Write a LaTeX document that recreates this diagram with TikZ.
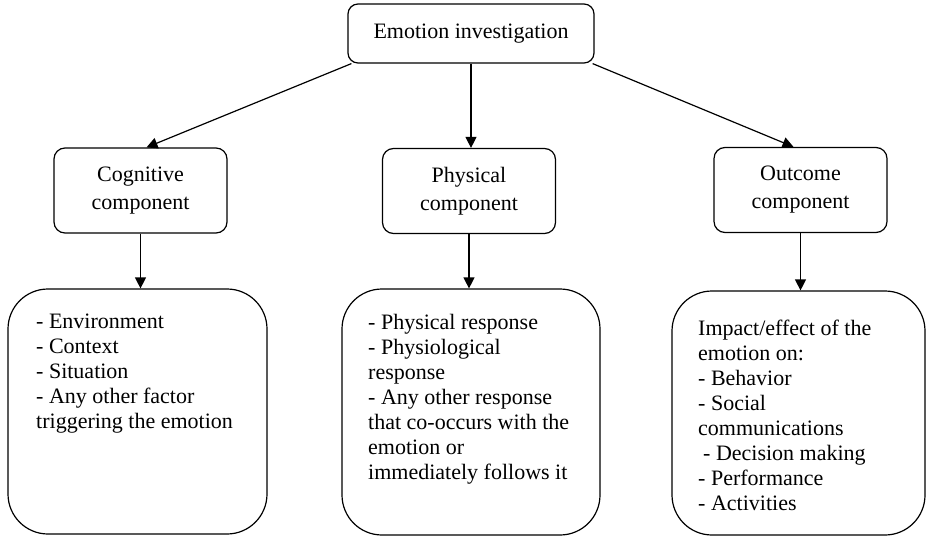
\documentclass[tikz,border=0pt]{standalone}
\usepackage{fontspec}
\setmainfont{Liberation Serif}
\usetikzlibrary{arrows.meta}
\begin{document}
\begin{tikzpicture}[x=1pt,y=-1pt,
  every node/.style={font=\fontsize{22}{25}\selectfont},
  headbox/.style={draw, rounded corners=10pt, line width=1.2pt, minimum width=246pt, minimum height=59pt, inner sep=0pt},
  compbox/.style={draw, rounded corners=11pt, line width=1.2pt, minimum width=173pt, minimum height=85pt, align=center, inner sep=0pt, font=\fontsize{22}{28}\selectfont},
  detailbox/.style={draw, rounded corners=40pt, line width=1.2pt, inner sep=0pt},
  detailtext/.style={anchor=north west, align=left, inner sep=0pt},
  link/.style={draw, line width=1.2pt, -{Triangle[length=11pt,width=11pt]}}
]
\useasboundingbox (0,0) rectangle (928,537);

% root
\node[headbox] (top) at (471,33.5) {Emotion investigation};

% the three components
\node[compbox] (cog) at (140.5,190.5) {Cognitive\\component};
\node[compbox] (phy) at (469,191) {Physical\\component};
\node[compbox] (out) at (800.5,190) {Outcome\\component};

% detail boxes
\node[detailbox, minimum width=259pt, minimum height=245pt] (cogd) at (137.5,411.5) {};
\node[detailbox, minimum width=258pt, minimum height=246pt] (phyd) at (471,412) {};
\node[detailbox, minimum width=253pt, minimum height=244pt] (outd) at (798.5,413) {};

% detail texts
\node[detailtext] (cogt) at (36,314) {- Environment\\- Context\\- Situation\\- Any other factor\\triggering the emotion};
\node[detailtext] (phyt) at (368,314) {- Physical response\\- Physiological\\response\\- Any other response\\that co-occurs with the\\emotion or\\immediately follows it};
\node[detailtext] (outt) at (698,320) {Impact/effect of the\\emotion on:\\- Behavior\\- Social\\communications\\\hspace{5pt}- Decision making\\- Performance\\- Activities};

% connectors
\draw[link] ([xshift=4pt]top.south west) -- ([xshift=6pt]cog.north);
\draw[link] (top.south) -- (top.south |- phy.north);
\draw[link] ([xshift=-2pt]top.south east) -- ([xshift=-7pt]out.north);
\draw[link] (cog.south) -- (cog.south |- cogd.north);
\draw[link] (phy.south) -- (phy.south |- phyd.north);
\draw[link] (out.south) -- (out.south |- outd.north);
\end{tikzpicture}
\end{document}
